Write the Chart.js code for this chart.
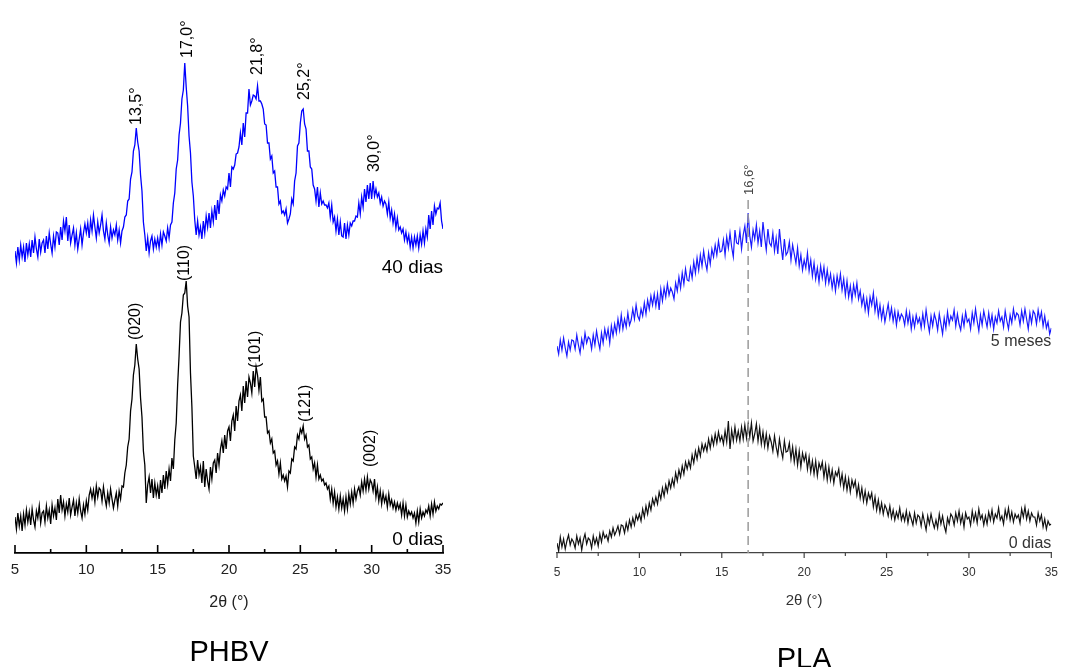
<!DOCTYPE html>
<html>
<head>
<meta charset="utf-8">
<script src="https://cdn.jsdelivr.net/npm/chart.js@4.4.0/dist/chart.umd.min.js"></script>
<style>
  html, body { margin: 0; padding: 0; background: #fff; }
  body { width: 1070px; height: 667px; position: relative; overflow: hidden; }
  #phbv { position: absolute; left: 0; top: 0; }
  #pla { position: absolute; left: 500px; top: 0; }
</style>
</head>
<body>
<canvas id="phbv" width="500" height="667"></canvas>
<canvas id="pla" width="570" height="667"></canvas>
<script>
// 2theta from 5 to 35 deg, step 0.1
const twoTheta = Array.from({ length: 301 }, (_, i) => +(5 + i * 0.1).toFixed(1));

const majorTicks = [5, 10, 15, 20, 25, 30, 35];
const minorTicks = [7.5, 12.5, 17.5, 22.5, 27.5, 32.5];

// PHBV, 0 dias (black)
const phbv0dias = [
  36, 24, 40, 27, 37, 22, 39, 28, 43, 31,
  41, 28, 44, 33, 26, 42, 35, 47, 30, 40,
  42, 31, 47, 35, 43, 29, 48, 37, 45, 33,
  54, 40, 58, 43, 51, 37, 49, 41, 55, 38,
  46, 53, 37, 50, 40, 54, 42, 35, 48, 39,
  52, 43, 58, 64, 55, 63, 51, 67, 56, 65,
  63, 52, 66, 55, 47, 60, 50, 64, 54, 45,
  53, 60, 47, 62, 54, 67, 66, 80, 88, 106,
  114, 142, 154, 178, 188, 209, 194, 184, 155, 136,
  102, 88, 50, 68, 76, 60, 74, 55, 70, 58,
  67, 54, 73, 60, 78, 64, 82, 69, 84, 72,
  95, 84, 113, 130, 168, 197, 231, 240, 258, 260,
  272, 247, 236, 180, 146, 97, 86, 74, 93, 78,
  86, 70, 92, 66, 84, 72, 64, 86, 74, 90,
  93, 80, 100, 88, 104, 112, 100, 118, 104, 122,
  126, 112, 132, 138, 122, 147, 132, 152, 158, 142,
  167, 150, 172, 156, 176, 170, 160, 182, 166, 186,
  178, 163, 176, 152, 154, 136, 136, 120, 122, 110,
  114, 100, 102, 88, 92, 79, 90, 74, 78, 72,
  77, 66, 82, 80, 94, 92, 106, 104, 118, 114,
  124, 120, 127, 114, 118, 106, 108, 94, 96, 84,
  90, 76, 88, 74, 78, 72, 74, 68, 70, 64,
  67, 54, 64, 50, 61, 46, 56, 44, 57, 45,
  54, 42, 56, 44, 59, 49, 61, 50, 64, 54,
  62, 66, 58, 71, 62, 74, 63, 76, 64, 73,
  70, 62, 74, 56, 66, 52, 62, 49, 60, 51,
  57, 46, 59, 48, 53, 45, 51, 43, 50, 44,
  49, 38, 50, 37, 48, 36, 42, 38, 41, 35,
  40, 30, 42, 31, 44, 35, 41, 37, 43, 40,
  47, 37, 49, 39, 51, 42, 47, 44, 49, 48,
  50
];

// PHBV, 40 dias (blue)
const phbv40dias = [
  302, 290, 306, 293, 308, 296, 306, 291, 310, 298,
  309, 296, 313, 300, 316, 304, 296, 314, 301, 310,
  313, 300, 317, 304, 320, 309, 300, 317, 306, 321,
  320, 308, 326, 313, 332, 322, 336, 312, 328, 310,
  318, 325, 308, 320, 304, 314, 324, 308, 320, 329,
  320, 330, 315, 333, 322, 338, 326, 315, 331, 320,
  328, 338, 322, 314, 330, 318, 310, 326, 315, 323,
  318, 328, 313, 323, 310, 322, 326, 336, 338, 352,
  354, 374, 381, 402, 408, 425, 411, 402, 378, 362,
  331, 318, 302, 315, 300, 312, 317, 304, 314, 306,
  315, 305, 319, 308, 321, 317, 312, 325, 315, 328,
  331, 350, 360, 384, 393, 418, 430, 454, 463, 490,
  466, 447, 417, 400, 371, 357, 333, 318, 332, 318,
  326, 314, 332, 320, 337, 326, 340, 325, 342, 331,
  348, 333, 353, 339, 358, 352, 363, 357, 366, 364,
  380, 366, 386, 384, 388, 399, 400, 406, 420, 408,
  430, 416, 440, 440, 464, 448, 452, 458, 457, 454,
  467, 452, 452, 449, 444, 429, 428, 410, 410, 394,
  397, 380, 382, 366, 366, 349, 352, 340, 342, 338,
  344, 330, 334, 339, 354, 349, 372, 380, 407, 410,
  430, 442, 444, 429, 424, 402, 402, 386, 384, 368,
  364, 352, 366, 346, 360, 349, 352, 348, 348, 345,
  350, 336, 348, 331, 336, 322, 334, 318, 331, 317,
  316, 330, 314, 328, 318, 330, 327, 332, 332, 337,
  336, 350, 339, 356, 346, 364, 351, 368, 354, 370,
  354, 372, 357, 364, 356, 360, 350, 356, 347, 352,
  349, 339, 351, 335, 343, 330, 339, 325, 335, 323,
  326, 320, 324, 313, 321, 311, 318, 306, 316, 305,
  316, 308, 317, 305, 318, 309, 322, 310, 324, 316,
  338, 324, 342, 328, 347, 339, 345, 344, 350, 332,
  324
];

// PLA, 0 dias (black)
const pla0dias = [
  10, 2, 16, 6, 14, 4, 12, 18, 8, 14,
  11, 5, 17, 9, 15, 3, 13, 19, 9, 15,
  13, 5, 17, 9, 15, 7, 19, 11, 21, 15,
  18, 12, 22, 16, 25, 18, 22, 27, 19, 28,
  27, 20, 30, 23, 33, 26, 35, 28, 38, 33,
  39, 32, 44, 36, 47, 39, 50, 43, 54, 48,
  56, 49, 61, 54, 65, 57, 68, 61, 72, 65,
  74, 67, 80, 72, 83, 76, 87, 79, 91, 84,
  92, 85, 98, 90, 102, 94, 105, 97, 109, 102,
  109, 102, 114, 105, 116, 108, 119, 110, 121, 112,
  117, 109, 122, 111, 132, 104, 123, 112, 126, 113,
  122, 112, 126, 114, 128, 115, 129, 116, 130, 112,
  119, 129, 112, 125, 109, 121, 107, 119, 105, 117,
  111, 102, 117, 106, 98, 114, 103, 95, 112, 101,
  102, 110, 94, 106, 91, 104, 88, 102, 86, 100,
  92, 99, 84, 96, 81, 92, 79, 92, 77, 90,
  84, 91, 76, 88, 73, 86, 73, 83, 70, 81,
  77, 84, 69, 79, 65, 76, 63, 74, 61, 73,
  66, 72, 58, 68, 55, 65, 52, 62, 50, 60,
  54, 60, 46, 56, 43, 53, 41, 50, 39, 48,
  44, 37, 47, 35, 43, 33, 41, 35, 45, 33,
  39, 32, 42, 30, 40, 34, 28, 40, 30, 38,
  36, 27, 39, 31, 23, 37, 29, 39, 31, 25,
  33, 25, 39, 29, 37, 27, 21, 35, 29, 39,
  36, 28, 40, 32, 42, 30, 38, 26, 40, 34,
  36, 28, 42, 32, 40, 30, 44, 34, 38, 28,
  37, 29, 41, 33, 43, 31, 39, 35, 45, 33,
  37, 29, 43, 35, 45, 33, 41, 31, 39, 35,
  38, 30, 44, 36, 46, 34, 42, 32, 40, 36,
  36, 28, 40, 32, 38, 26, 34, 24, 32, 28,
  29
];

// PLA, 5 meses (blue)
const pla5meses = [
  207, 199, 213, 203, 215, 205, 197, 211, 203, 213,
  212, 204, 218, 208, 200, 214, 206, 220, 210, 216,
  214, 204, 218, 208, 222, 212, 204, 220, 210, 224,
  215, 224, 210, 227, 217, 229, 220, 234, 223, 238,
  224, 234, 226, 240, 228, 233, 244, 234, 248, 237,
  233, 244, 237, 250, 239, 253, 244, 257, 248, 259,
  247, 259, 243, 264, 252, 265, 256, 269, 258, 265,
  261, 254, 270, 262, 276, 265, 280, 269, 284, 273,
  272, 285, 275, 291, 280, 295, 283, 298, 287, 302,
  291, 283, 300, 289, 304, 296, 308, 298, 312, 301,
  302, 313, 298, 316, 305, 320, 306, 296, 323, 310,
  309, 322, 304, 318, 327, 310, 340, 317, 306, 323,
  314, 328, 310, 322, 306, 331, 316, 303, 324, 310,
  307, 320, 302, 315, 299, 324, 307, 293, 314, 298,
  301, 311, 293, 308, 299, 290, 305, 287, 298, 283,
  293, 285, 300, 282, 293, 277, 290, 274, 285, 271,
  287, 275, 286, 270, 283, 270, 279, 265, 276, 262,
  277, 267, 279, 263, 274, 258, 272, 256, 267, 253,
  268, 258, 270, 254, 262, 248, 257, 243, 254, 240,
  256, 248, 260, 242, 253, 237, 248, 234, 245, 231,
  240, 249, 235, 245, 232, 242, 228, 241, 233, 239,
  236, 228, 242, 230, 240, 224, 236, 226, 238, 230,
  235, 225, 239, 227, 243, 231, 221, 237, 227, 239,
  233, 223, 239, 229, 219, 235, 225, 241, 229, 237,
  233, 243, 227, 239, 229, 223, 237, 227, 241, 231,
  234, 224, 240, 230, 244, 232, 222, 238, 228, 242,
  234, 226, 240, 228, 238, 224, 236, 230, 242, 232,
  236, 226, 242, 232, 224, 238, 230, 244, 234, 240,
  238, 228, 242, 232, 244, 234, 224, 240, 230, 242,
  239, 229, 243, 233, 241, 227, 237, 225, 231, 219,
  225
];

// peak labels: text, 2theta, intensity at the label start
const phbvAngleLabels = [
  ['13,5°', 13.5, 428], ['17,0°', 17.12, 495], ['21,8°', 22.03, 478],
  ['25,2°', 25.33, 453], ['30,0°', 30.23, 381]
];
const phbvPlaneLabels = [
  ['(020)', 13.48, 213], ['(110)', 16.92, 272], ['(101)', 21.89, 185],
  ['(121)', 25.4, 131], ['(002)', 29.95, 86]
];
const plaPeak = 16.6;

const FONT = "'Liberation Sans', Arial, sans-serif";
Chart.defaults.font.family = FONT;

function pts(ys) {
  return twoTheta.map((x, i) => ({ x: x, y: ys[i] }));
}

const decor = {
  id: 'decor',
  afterDatasetsDraw(chart, args, o) {
    const ctx = chart.ctx;
    const area = chart.chartArea;
    const sx = chart.scales.x, sy = chart.scales.y;
    const base = area.bottom;
    ctx.save();

    // tick marks
    ctx.strokeStyle = o.tickColor;
    ctx.lineWidth = o.tickWidth;
    ctx.beginPath();
    majorTicks.forEach(v => {
      const px = sx.getPixelForValue(v);
      ctx.moveTo(px, base);
      ctx.lineTo(px, base + o.dir * o.major);
    });
    minorTicks.forEach(v => {
      const px = sx.getPixelForValue(v);
      ctx.moveTo(px, base);
      ctx.lineTo(px, base + o.dir * o.minor);
    });
    ctx.stroke();

    // dashed peak line
    if (o.marker) {
      const px = sx.getPixelForValue(o.marker.x);
      ctx.strokeStyle = '#9a9a9a';
      ctx.lineWidth = 1.5;
      ctx.setLineDash([9, 5]);
      ctx.beginPath();
      ctx.moveTo(px, sy.getPixelForValue(o.marker.top));
      ctx.lineTo(px, base);
      ctx.stroke();
      ctx.setLineDash([]);
    }

    // rotated labels
    ctx.fillStyle = o.labelColor;
    ctx.font = o.labelFont;
    ctx.textAlign = 'left';
    ctx.textBaseline = 'middle';
    o.labels.forEach(l => {
      ctx.save();
      ctx.translate(sx.getPixelForValue(l[1]), sy.getPixelForValue(l[2]));
      ctx.rotate(-Math.PI / 2);
      ctx.fillText(l[0], 0, 0);
      ctx.restore();
    });

    // series names
    ctx.font = o.noteFont;
    ctx.fillStyle = o.noteColor;
    ctx.textAlign = 'right';
    o.notes.forEach(n => {
      ctx.fillText(n[0], area.right, sy.getPixelForValue(n[1]));
    });

    // caption
    ctx.fillStyle = '#000';
    ctx.font = '29px ' + FONT;
    ctx.textAlign = 'center';
    ctx.textBaseline = 'alphabetic';
    ctx.fillText(o.caption, (area.left + area.right) / 2, o.captionY);
    ctx.restore();
  }
};

function makeChart(id, sets, pad, x, deco) {
  return new Chart(document.getElementById(id), {
    type: 'line',
    data: { datasets: sets },
    options: {
      responsive: false,
      animation: false,
      devicePixelRatio: 1,
      layout: { padding: pad },
      elements: { point: { radius: 0 }, line: { tension: 0 } },
      plugins: { legend: { display: false }, tooltip: { enabled: false }, decor: deco },
      scales: {
        x: {
          type: 'linear', min: 5, max: 35,
          afterFit: s => { s.height = 114; },
          grid: { display: true, drawOnChartArea: false, drawTicks: false },
          border: { display: true, color: x.axisColor, width: x.axisWidth },
          ticks: { stepSize: 5, color: x.tickColor, padding: x.padding, font: { size: x.tickSize } },
          title: { display: true, text: '2θ (°)', color: x.tickColor, font: { size: x.titleSize }, padding: { top: 0, bottom: x.titlePad } }
        },
        y: { display: false, min: 0, max: 553 }
      }
    },
    plugins: [decor]
  });
}

makeChart('phbv', [
  { data: pts(phbv40dias), borderColor: '#0000ff', borderWidth: 1.3 },
  { data: pts(phbv0dias), borderColor: '#000000', borderWidth: 1.3 }
], { left: 15, right: 57, top: 0, bottom: 0 },
{ axisColor: '#000', axisWidth: 1.8, tickColor: '#222', padding: 8, tickSize: 15, titleSize: 16, titlePad: 55 },
{
  dir: -1, major: 8, minor: 4, tickColor: '#000', tickWidth: 1.6,
  labels: phbvAngleLabels.concat(phbvPlaneLabels),
  labelColor: '#000', labelFont: '16px ' + FONT,
  notes: [['40 dias', 285], ['0 dias', 13]], noteFont: '19px ' + FONT, noteColor: '#000',
  caption: 'PHBV', captionY: 661
});

makeChart('pla', [
  { data: pts(pla5meses), borderColor: '#1a1aff', borderWidth: 1.2 },
  { data: pts(pla0dias), borderColor: '#111111', borderWidth: 1.2 }
], { left: 57, right: 11, top: 0, bottom: 0 },
{ axisColor: '#444', axisWidth: 1.3, tickColor: '#333', padding: 12, tickSize: 12, titleSize: 15, titlePad: 57 },
{
  dir: 1, major: 5, minor: 3, tickColor: '#444', tickWidth: 1.2,
  marker: { x: plaPeak, top: 353 },
  labels: [['16,6°', 16.66, 358]],
  labelColor: '#444', labelFont: '13px ' + FONT,
  notes: [['5 meses', 211], ['0 dias', 9]], noteFont: '16px ' + FONT, noteColor: '#333',
  caption: 'PLA', captionY: 668
});
</script>
</body>
</html>
